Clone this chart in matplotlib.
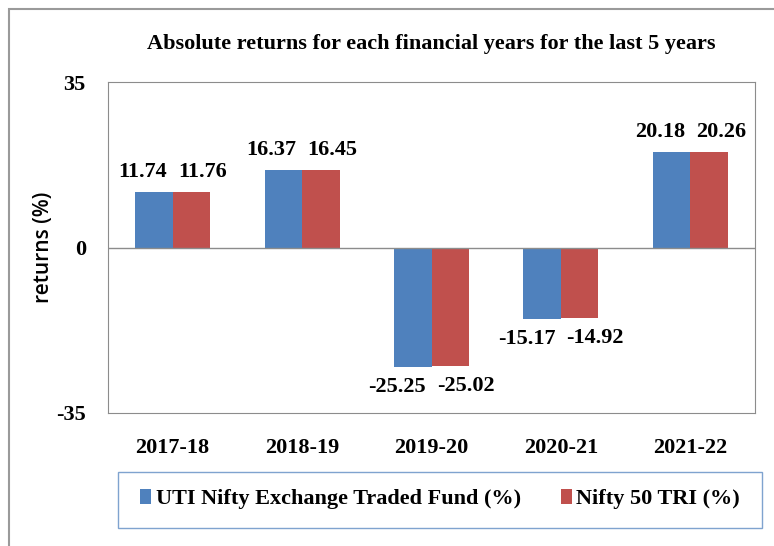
import numpy as np
import matplotlib.pyplot as plt
from matplotlib.patches import Rectangle

years = ["2017-18", "2018-19", "2019-20", "2020-21", "2021-22"]
uti_etf = [11.74, 16.37, -25.25, -15.17, 20.18]
nifty_tri = [11.76, 16.45, -25.02, -14.92, 20.26]
series_names = ["UTI Nifty Exchange Traded Fund (%)", "Nifty 50 TRI (%)"]

serif = ["Liberation Serif", "DejaVu Serif"]
blue = "#4F81BD"
red = "#C0504D"

fig = plt.figure(figsize=(7.74, 5.46), dpi=100)
ax = fig.add_axes([0.1395, 0.2436, 0.836, 0.6062])

x = np.arange(len(years))
w = 0.29
b1 = ax.bar(x - w / 2, uti_etf, w, color=blue, label=series_names[0])
b2 = ax.bar(x + w / 2, nifty_tri, w, color=red, label=series_names[1])

# data labels: pushed apart from the group centre like Excel does
for i in range(len(years)):
    for val, side in ((uti_etf[i], -1), (nifty_tri[i], 1)):
        dy = 7 if val >= 0 else -7
        ax.annotate("%.2f" % val, xy=(i, val), xytext=(side * 4, dy),
                    textcoords="offset points",
                    ha="right" if side < 0 else "left",
                    va="bottom" if val >= 0 else "top",
                    fontsize=16, fontweight="bold", family=serif)

ax.set_xlim(-0.5, len(years) - 0.5)
ax.set_ylim(-35, 35)
ax.set_yticks([-35, 0, 35])
ax.set_yticklabels(["-35", "0", "35"], fontsize=16, fontweight="bold", family=serif)
ax.tick_params(axis="y", length=0, pad=16)
ax.set_xticks([])
ax.axhline(0, color="#8c8c8c", lw=1)
for s in ax.spines.values():
    s.set_color("#8c8c8c")

# category labels sit below the plot box
for i, yr in enumerate(years):
    ax.text(i, -40.3, yr, ha="center", va="top",
            fontsize=16, fontweight="bold", family=serif)

ax.set_ylabel("returns (%)", fontsize=15, fontweight="semibold",
              family=["Open Sans", "DejaVu Sans"])
ax.yaxis.set_label_coords(-0.083, 0.5)

fig.text(0.557, 0.919, "Absolute returns for each financial years for the last 5 years",
         ha="center", va="center", fontsize=16, fontweight="bold", family=serif)

# legend box
fig.patches.append(Rectangle((118 / 774, 1 - 528 / 546), 644 / 774, 56 / 546,
                             transform=fig.transFigure, fill=False,
                             edgecolor="#7FA3CF", lw=1))
fig.legend(handles=[b1, b2], loc="center", bbox_to_anchor=(440 / 774, 1 - 499 / 546),
           ncol=2, frameon=False, handlelength=0.5, handleheight=0.7,
           handletextpad=0.2, columnspacing=1.8,
           prop={"family": serif, "weight": "bold", "size": 16})

# outer chart border
fig.patches.append(Rectangle((9 / 774, -0.1), 1.2, 1.1 - 9 / 546,
                             transform=fig.transFigure, fill=False,
                             edgecolor="#9a9a9a", lw=1.5))

fig.savefig("out.png", dpi=100)
